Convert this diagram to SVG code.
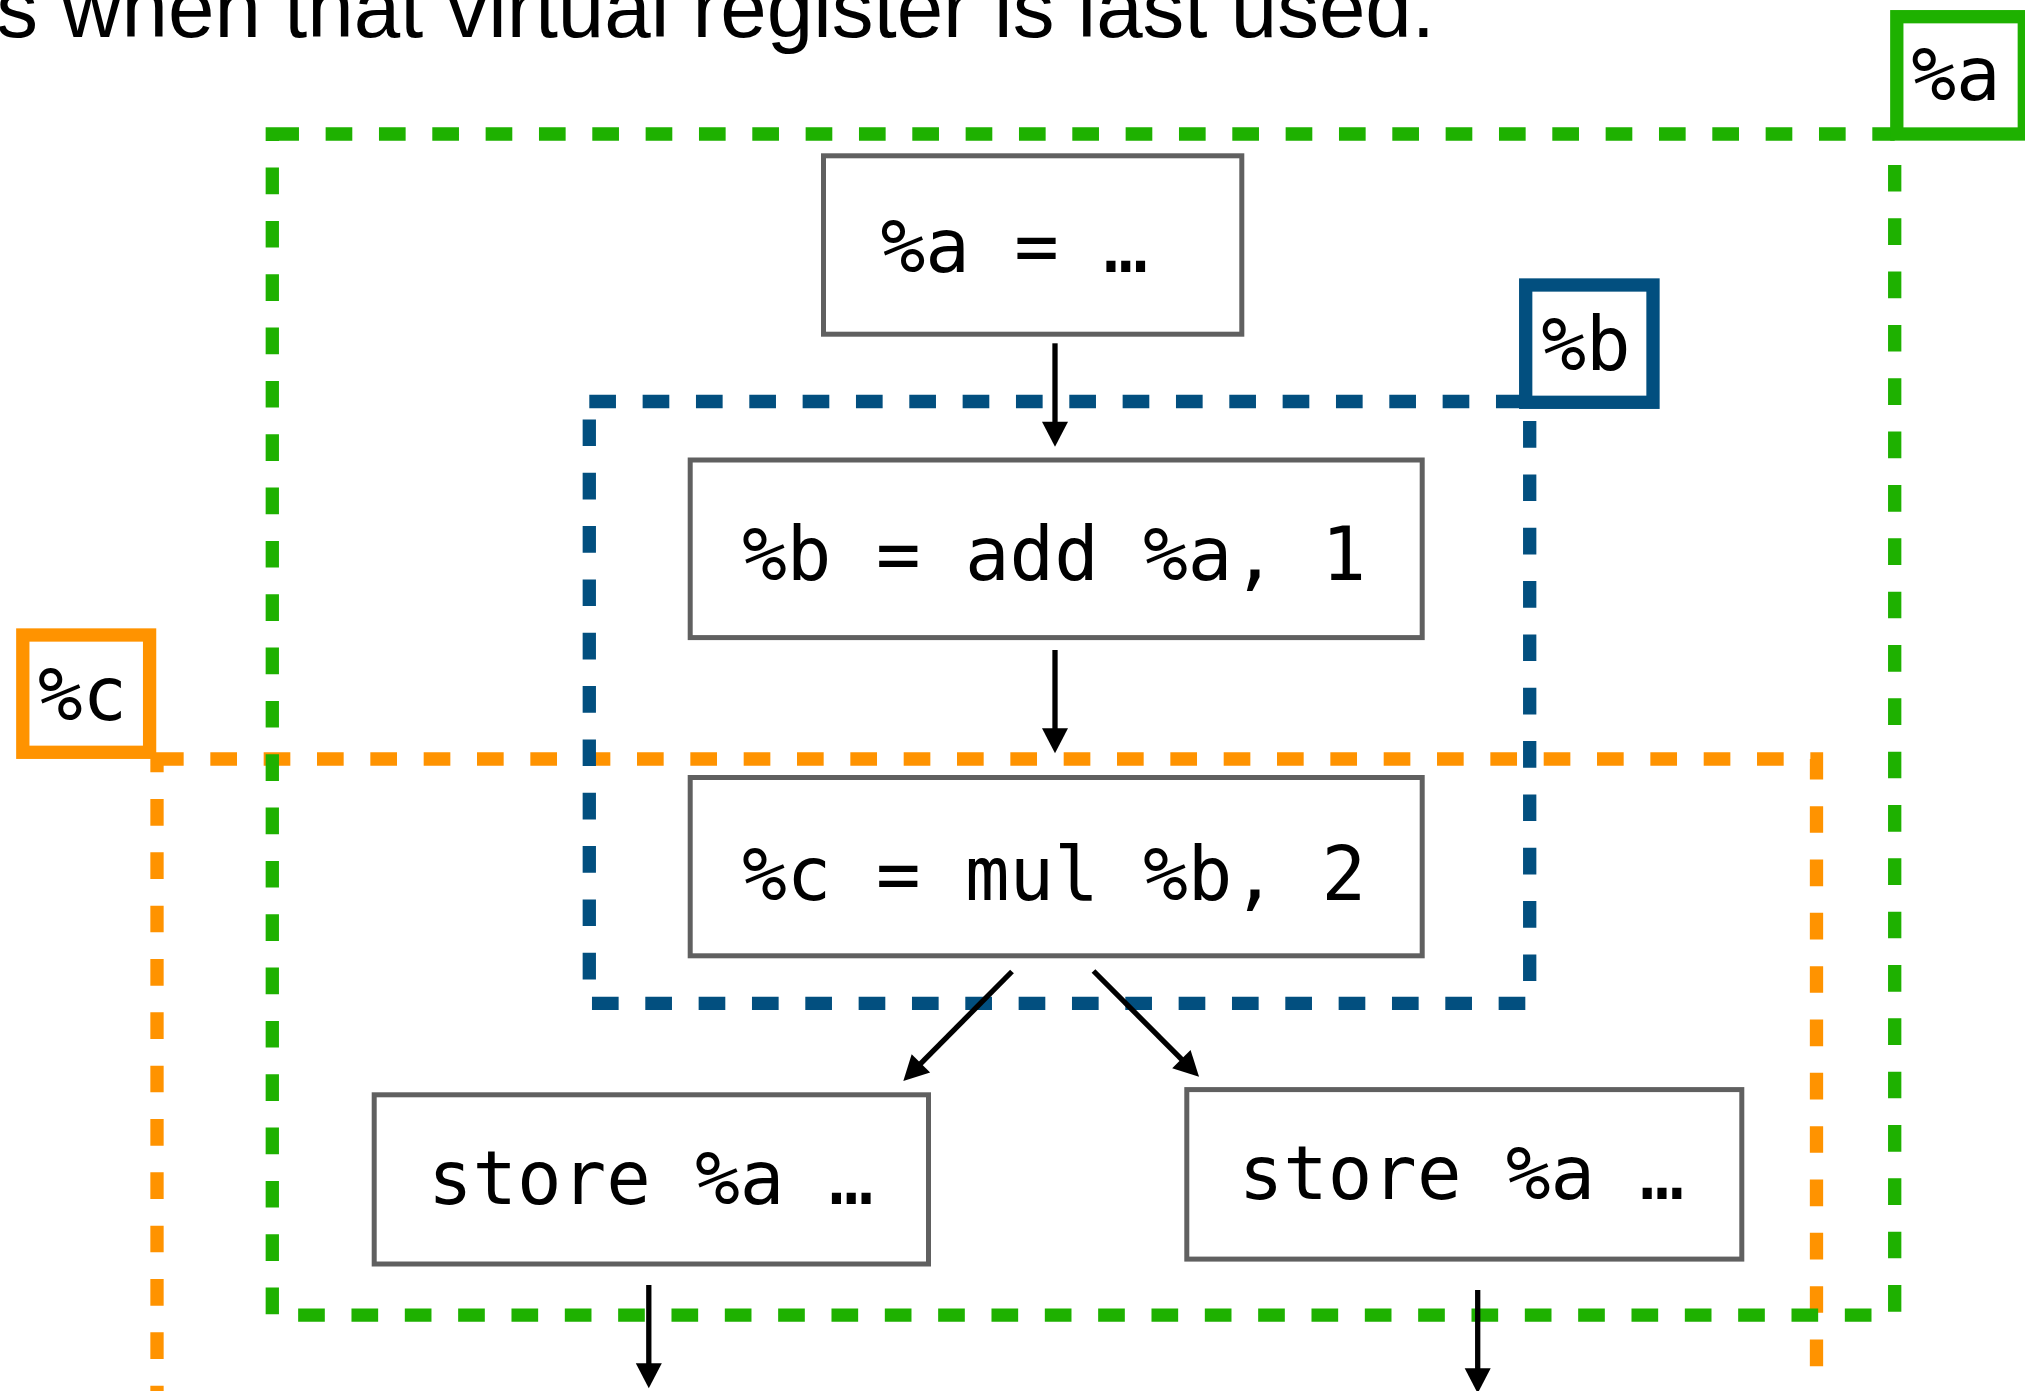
<svg xmlns="http://www.w3.org/2000/svg" width="2025" height="1391" viewBox="0 0 2025 1391">
  <style>
    .region { fill: none; stroke-width: 13.3; stroke-dasharray: 26.667 26.667; }
    .live-a { stroke: #1eb100; }
    .live-b { stroke: #024f7f; }
    .live-c { stroke: #ff9300; }
    .tag { fill: #ffffff; stroke-width: 13.3; }
    .node rect { fill: #ffffff; stroke: #606060; stroke-width: 5; }
    .code { font-family: "DejaVu Sans Mono", "Liberation Mono", monospace; font-size: 74px; fill: #000000; }
    .edge { stroke: #000000; stroke-width: 5.3; fill: none; marker-end: url(#head); }
    .caption { font-family: "Liberation Sans", Arial, sans-serif; font-size: 83.5px; fill: #000000; }
  </style>
  <defs>
    <marker id="head" markerUnits="userSpaceOnUse" markerWidth="25" markerHeight="26" refX="5" refY="13" orient="auto" overflow="visible">
      <path d="M0,0 L25,13 L0,26 Z" fill="#000000"/>
    </marker>
  </defs>

  <rect width="2025" height="1391" fill="#ffffff"/>

  <text class="caption" x="1435" y="36.7" text-anchor="end">s when that virtual register is last used.</text>

  <!-- live ranges -->
  <g id="range-c">
    <rect class="region live-c" x="157" y="759" width="1659.5" height="667.2"/>
  </g>
  <g id="range-a">
    <rect class="region live-a" x="272.3" y="134" width="1622.4" height="1181.1"/>
  </g>
  <g id="range-b">
    <rect class="region live-b" x="589.3" y="401.5" width="940.4" height="601.9"/>
  </g>

  <!-- range tags -->
  <g id="tag-a">
    <rect class="tag live-a" x="1896.8" y="16.7" width="127.5" height="117.3"/>
    <text class="code" x="1956" y="100" text-anchor="middle">%a</text>
  </g>
  <g id="tag-b">
    <rect class="tag live-b" x="1525.7" y="285" width="127.3" height="117.3"/>
    <text class="code" x="1586" y="370" text-anchor="middle">%b</text>
  </g>
  <g id="tag-c">
    <rect class="tag live-c" x="22.8" y="635" width="126.8" height="117.3"/>
    <text class="code" x="82.6" y="720" text-anchor="middle">%c</text>
  </g>

  <!-- instructions -->
  <g id="def-a" class="node">
    <rect x="823.5" y="155.8" width="418.3" height="178.4"/>
    <text class="code" x="880.7" y="271.7">%a = …</text>
  </g>
  <g id="def-b" class="node">
    <rect x="690.2" y="460" width="732" height="177.6"/>
    <text class="code" x="742.3" y="580">%b = add %a, 1</text>
  </g>
  <g id="def-c" class="node">
    <rect x="690.2" y="777.5" width="732" height="178.3"/>
    <text class="code" x="742.3" y="900">%c = mul %b, 2</text>
  </g>
  <g id="store-left" class="node">
    <rect x="374.2" y="1094.8" width="554.3" height="169.2"/>
    <text class="code" x="428" y="1204.3">store %a …</text>
  </g>
  <g id="store-right" class="node">
    <rect x="1186.8" y="1089.6" width="555" height="169.5"/>
    <text class="code" x="1238.7" y="1199">store %a …</text>
  </g>

  <!-- control flow -->
  <g id="edges">
    <line class="edge" x1="1055" y1="343.3" x2="1055" y2="426.7"/>
    <line class="edge" x1="1055" y1="650" x2="1055" y2="733.3"/>
    <line class="edge" x1="1012" y1="971.5" x2="917.4" y2="1066.9"/>
    <line class="edge" x1="1093.5" y1="971" x2="1184.9" y2="1062.6"/>
    <line class="edge" x1="648.8" y1="1285" x2="648.8" y2="1368.3"/>
    <line class="edge" x1="1477.7" y1="1290" x2="1477.7" y2="1373.3"/>
  </g>
</svg>
